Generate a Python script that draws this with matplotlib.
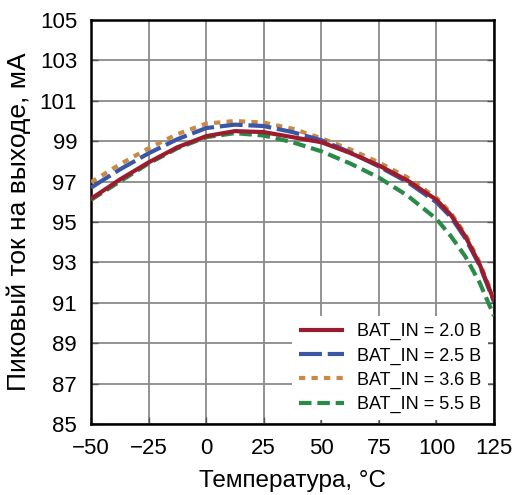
import matplotlib
matplotlib.use("Agg")
import matplotlib.pyplot as plt

plt.rcParams['font.family'] = ['Liberation Sans', 'DejaVu Sans']

temp = [-50, -37.5, -25, -12.5, 0, 12.5, 25, 37.5, 50, 62.5, 75, 87.5, 100, 106.25, 112.5, 118.75, 125]

bat_20 = [96.15, 97.1, 97.95, 98.7, 99.25, 99.5, 99.45, 99.2, 98.95, 98.42, 97.8, 97.05, 96.1, 95.35, 94.3, 92.9, 91.1]
bat_25 = [96.7, 97.6, 98.4, 99.1, 99.65, 99.82, 99.75, 99.45, 99.05, 98.45, 97.75, 96.97, 95.98, 95.25, 94.2, 92.85, 91.05]
bat_36 = [96.97, 97.85, 98.65, 99.35, 99.87, 100.0, 99.92, 99.62, 99.15, 98.6, 97.95, 97.2, 96.2, 95.45, 94.4, 93.0, 91.2]
bat_55 = [96.1, 97.0, 97.9, 98.65, 99.2, 99.4, 99.28, 98.95, 98.5, 97.9, 97.2, 96.3, 95.15, 94.3, 93.3, 92.0, 90.35]

labels = ['BAT_IN = 2.0 B', 'BAT_IN = 2.5 B', 'BAT_IN = 3.6 B', 'BAT_IN = 5.5 B']
xticks = [-50, -25, 0, 25, 50, 75, 100, 125]
xticklabels = ['\u221250', '\u221225', '0', '25', '50', '75', '100', '125']
yticks = [85, 87, 89, 91, 93, 95, 97, 99, 101, 103, 105]

fig = plt.figure(figsize=(5.23, 4.95), dpi=100)
ax = fig.add_axes([0.174, 0.1434, 0.7706, 0.8162])

ax.plot(temp, bat_20, color='#9a1c2e', lw=3, solid_capstyle='butt', label=labels[0], zorder=5)
ax.plot(temp, bat_25, color='#3c56a6', lw=3, dashes=(5.5, 1.4), label=labels[1], zorder=4)
ax.plot(temp, bat_36, color='#c98a45', lw=3, dashes=(1.5, 1.5), label=labels[2], zorder=3)
ax.plot(temp, bat_55, color='#2a8a47', lw=3, dashes=(3, 1.4), label=labels[3], zorder=4)

ax.set_xlim(-50, 125)
ax.set_ylim(85, 105)
ax.set_xticks(xticks)
ax.set_yticks(yticks)
ax.set_xticklabels(xticklabels)
ax.tick_params(direction='in', length=5, width=1, labelsize=16, right=True, color='#555555')
ax.tick_params(axis='x', pad=10)
ax.tick_params(axis='y', pad=10)
ax.grid(True, color='#8a8a8a', lw=1.3)
for s in ax.spines.values():
    s.set_linewidth(1.8)
    s.set_color('black')

ax.set_xlabel('Температура, °C', fontsize=17.5, labelpad=8)
ax.set_ylabel('Пиковый ток на выходе, мА', fontsize=19, labelpad=6)

leg = ax.legend(loc='lower right', bbox_to_anchor=(0.9856, 0.009), frameon=True, fancybox=False,
                fontsize=13, edgecolor='none', facecolor='white', framealpha=1,
                borderaxespad=0, handlelength=2.5, handletextpad=0.7,
                labelspacing=0.39, borderpad=0.4)

fig.savefig('out.png', dpi=100)
